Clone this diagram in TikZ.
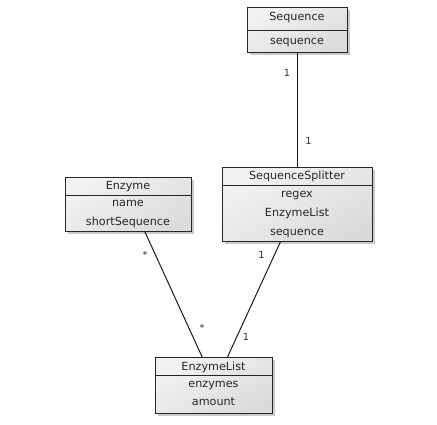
\documentclass[tikz,border=0pt]{standalone}
\usepackage{fontspec}
\setmainfont{DejaVu Sans}
\usetikzlibrary{calc,shadows}
\begin{document}
\begin{tikzpicture}[x=1pt,y=-1pt,
  box/.style={draw=black!85, line width=0.9pt, inner sep=0pt, anchor=north west,
    top color=white!95!black, bottom color=white!86!black, shading angle=30,
    drop shadow={shadow xshift=2.5pt, shadow yshift=-2.5pt, opacity=0.35, fill=black!60}},
  sep/.style={draw=black!85, line width=0.9pt},
  txt/.style={inner sep=0pt, anchor=base, font=\fontsize{11.2}{13}\selectfont, text=black!85},
  lbl/.style={inner sep=0pt, font=\fontsize{9.8}{11}\selectfont, text=black!80},
  conn/.style={draw=black!90, line width=1pt}]
\useasboundingbox (0,0) rectangle (437,424);
% Sequence
\node[box, minimum width=100pt, minimum height=45pt] (seq) at (247,7) {};
\draw[sep] (seq.west |- 0,30) -- (seq.east |- 0,30);
\node[txt] (seqT) at (297,20.7) {Sequence};
\node[txt] (seqA) at (297,44.3) {sequence};
% Enzyme
\node[box, minimum width=126pt, minimum height=54pt] (enz) at (65,177) {};
\draw[sep] (enz.west |- 0,195) -- (enz.east |- 0,195);
\node[txt] (enzT) at (128,189) {Enzyme};
\node[txt] (enzA) at (128,206.7) {name};
\node[txt] (enzB) at (128,225) {shortSequence};
% SequenceSplitter
\node[box, minimum width=150pt, minimum height=74pt] (spl) at (222,167) {};
\draw[sep] (spl.west |- 0,185) -- (spl.east |- 0,185);
\node[txt] (splT) at (297,179) {SequenceSplitter};
\node[txt] (splA) at (297,197.7) {regex};
\node[txt] (splB) at (297,216.5) {EnzymeList};
\node[txt] (splC) at (297,235) {sequence};
% EnzymeList
\node[box, minimum width=117pt, minimum height=56pt] (el) at (155,357) {};
\draw[sep] (el.west |- 0,375) -- (el.east |- 0,375);
\node[txt] (elT) at (213.5,370) {EnzymeList};
\node[txt] (elA) at (213.5,387.3) {enzymes};
\node[txt] (elB) at (213.5,405) {amount};
% connectors
\draw[conn] (seq.south) -- (spl.north);
\draw[conn] ($(enz.south west)!0.63!(enz.south east)$) -- ($(el.north west)!0.40!(el.north east)$);
\draw[conn] ($(spl.south west)!0.387!(spl.south east)$) -- ($(el.north west)!0.615!(el.north east)$);
% multiplicities
\node[lbl] (m1) at (287,72.5) {1};
\node[lbl] (m2) at (308.5,141) {1};
\node[lbl] (m3) at (145,255) {*};
\node[lbl] (m4) at (202,328) {*};
\node[lbl] (m5) at (261.5,255) {1};
\node[lbl] (m6) at (246,337) {1};
\end{tikzpicture}
\end{document}
